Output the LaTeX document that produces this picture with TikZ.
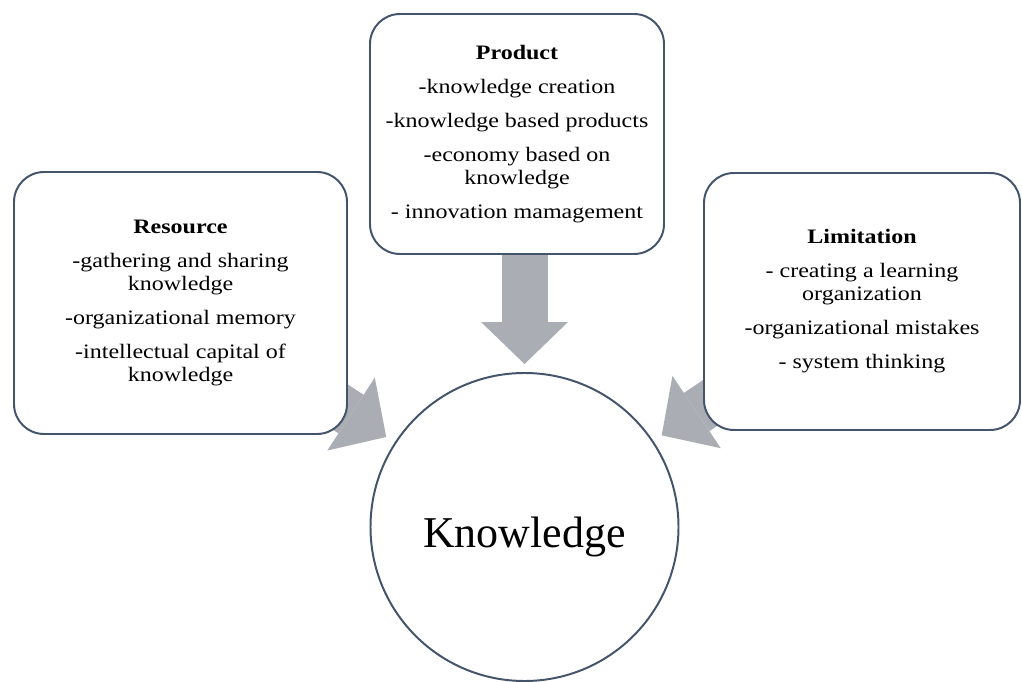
\documentclass[tikz,border=0pt]{standalone}
\usepackage{fontspec}
\setmainfont{Liberation Serif}
\newfontfamily\boxfont[FakeStretch=1.17]{Liberation Serif}
\usetikzlibrary{arrows.meta,backgrounds}
\definecolor{boxline}{RGB}{68,84,106}
\definecolor{arrowgray}{RGB}{170,173,179}
\tikzset{
    infobox/.style={draw=boxline,line width=1.4pt,fill=white,rectangle,rounded corners=0.75cm,
        align=center,font=\boxfont\fontsize{14.6}{16.4}\selectfont},
    bigarrow/.style={arrowgray,line width=1.15cm,
        -{Triangle[length=1.05cm,width=2.175cm,line width=0pt]}}
}
\begin{document}
\begin{tikzpicture}
    \useasboundingbox (0,0) rectangle (25.55,17.025);
    %% Boxes
    \node[infobox,minimum width=8.325cm,minimum height=6.55cm] (res) at (4.5125,9.45)
        {\textbf{Resource}\\[7.8pt] -gathering and sharing\\ knowledge\\[7.8pt]
         -organizational memory\\[7.8pt] -intellectual capital of\\ knowledge};
    \node[infobox,minimum width=7.35cm,minimum height=6.0cm] (prod) at (12.925,13.675)
        {\textbf{Product}\\[7.8pt] -knowledge creation\\[7.8pt] -knowledge based products\\[7.8pt]
         -economy based on\\ knowledge\\[7.8pt] - innovation mamagement};
    \node[infobox,minimum width=7.9cm,minimum height=6.425cm] (lim) at (21.55,9.4875)
        {\textbf{Limitation}\\[7.8pt] - creating a learning\\ organization\\[7.8pt]
         -organizational mistakes\\[7.8pt] - system thinking};
    %% Circle
    \node[draw=boxline,line width=1.4pt,fill=white,circle,minimum size=7.7cm] (know) at (13.1125,3.85) {};
    \node[anchor=base,font=\fontsize{31.3}{36}\selectfont] (knowlabel) at ([yshift=-0.5cm]know.center) {Knowledge};
    %% Arrows (behind the boxes)
    \begin{scope}[on background layer]
        \draw[bigarrow,shorten >=0.25cm] (res.center) -- (know);
        \draw[bigarrow,shorten >=0.2cm] (know |- prod.center) -- (know.north);
        \draw[bigarrow,shorten >=0.25cm] (lim.center) -- (know);
    \end{scope}
\end{tikzpicture}
\end{document}
